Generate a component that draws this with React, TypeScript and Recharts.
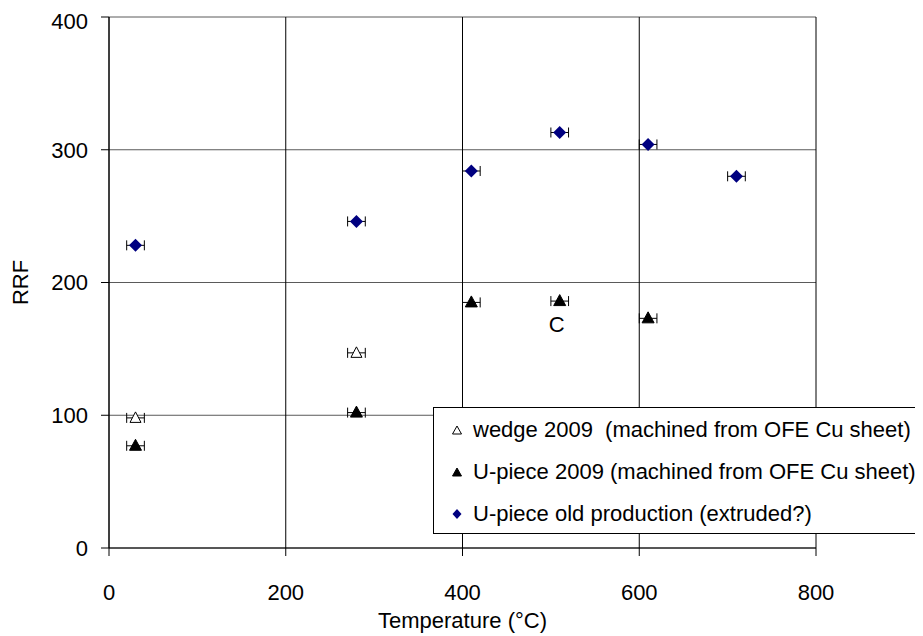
import React from 'react';
import {
  ScatterChart,
  Scatter,
  XAxis,
  YAxis,
  CartesianGrid,
  ErrorBar,
  Legend,
  Label,
  ReferenceDot,
} from 'recharts';

// ---- data ----
const wedgeTemp = [30, 280];
const wedgeRRF = [98, 147];
const uPieceTemp = [30, 280, 410, 510, 610];
const uPieceRRF = [77, 102, 185, 186, 173];
const oldTemp = [30, 280, 410, 510, 610, 710];
const oldRRF = [228, 246, 284, 313, 304, 280];
const tempErr = 10;
const xTicks = [0, 200, 400, 600, 800];
const yTicks = [0, 100, 200, 300, 400];
const seriesNames = [
  'wedge 2009  (machined from OFE Cu sheet)',
  'U-piece 2009 (machined from OFE Cu sheet)',
  'U-piece old production (extruded?)',
];
const annotation = { t: 510, rrf: 186, text: 'C' };

const build = (xs: number[], ys: number[]) =>
  xs.map((x, i) => ({ t: x, rrf: ys[i], err: tempErr }));

const wedgeData = build(wedgeTemp, wedgeRRF);
const uPieceData = build(uPieceTemp, uPieceRRF);
const oldData = build(oldTemp, oldRRF);

const FONT = '"Liberation Sans", Arial, sans-serif';
const FS = 22;

const OpenTriangle = (p: any) => {
  const { cx, cy } = p;
  return (
    <polygon
      points={`${cx},${cy - 6} ${cx + 5.5},${cy + 4.5} ${cx - 5.5},${cy + 4.5}`}
      fill="#fff"
      stroke="#000"
      strokeWidth={1}
    />
  );
};
const FilledTriangle = (p: any) => {
  const { cx, cy } = p;
  return (
    <polygon
      points={`${cx},${cy - 6.5} ${cx + 6},${cy + 4.5} ${cx - 6},${cy + 4.5}`}
      fill="#000"
      stroke="#000"
      strokeWidth={1}
    />
  );
};
const Diamond = (p: any) => {
  const { cx, cy } = p;
  return (
    <polygon
      points={`${cx},${cy - 6.5} ${cx + 6.5},${cy} ${cx},${cy + 6.5} ${cx - 6.5},${cy}`}
      fill="#000080"
    />
  );
};

const legendSymbols = [
  <polygon key="a" points="5,2 9.5,10 0.5,10" fill="#fff" stroke="#000" strokeWidth={1} />,
  <polygon key="b" points="5,2 9.5,10 0.5,10" fill="#000" stroke="#000" strokeWidth={1} />,
  <polygon key="c" points="5,1 9.5,6 5,11 0.5,6" fill="#000080" />,
];

const LegendBox = () => (
  <div
    style={{
      width: 520,
      height: 127,
      border: '1px solid #000',
      background: '#fff',
      boxSizing: 'border-box',
      fontFamily: FONT,
      fontSize: FS,
      color: '#000',
    }}
  >
    {seriesNames.map((name, i) => (
      <div
        key={name}
        style={{
          height: 42,
          display: 'flex',
          alignItems: 'center',
          whiteSpace: 'pre',
          marginTop: i === 0 ? 1 : 0,
        }}
      >
        <svg width={10} height={12} style={{ marginLeft: 18, marginRight: 11 }}>
          {legendSymbols[i]}
        </svg>
        <span>{name}</span>
      </div>
    ))}
  </div>
);

export default function App() {
  return (
    <div style={{ width: 915, height: 628, overflow: 'hidden', position: 'relative' }}>
      <ScatterChart
        width={915}
        height={628}
        margin={{ top: 9, right: 107, bottom: 0, left: 0 }}
        style={{ fontFamily: FONT }}
      >
        <CartesianGrid horizontal={true} vertical={false} stroke="#5a5a5a" />
        <CartesianGrid horizontal={false} vertical={true} stroke="#000" />
        <XAxis
          type="number"
          dataKey="t"
          domain={[0, 800]}
          ticks={xTicks}
          height={88}
          tickSize={8}
          tickMargin={28}
          stroke="#000"
          tick={{ fontSize: FS, fill: '#000', fontFamily: FONT }}
          allowDataOverflow
        >
          <Label
            value="Temperature (°C)"
            position="insideBottom"
            offset={8}
            style={{ fontSize: FS, fill: '#000', fontFamily: FONT }}
          />
        </XAxis>
        <YAxis
          type="number"
          dataKey="rrf"
          domain={[0, 400]}
          ticks={yTicks}
          width={101}
          tickSize={8}
          tickMargin={13}
          stroke="#000"
          tick={{ fontSize: FS, fill: '#000', fontFamily: FONT }}
          allowDataOverflow
        >
          <Label
            content={(props: any) => {
              const vb = props.viewBox || { x: 0, y: 0, width: 0, height: 0 };
              const x = vb.x + 12;
              const y = vb.y + vb.height / 2;
              return (
                <text
                  x={x}
                  y={y}
                  transform={`rotate(-90 ${x} ${y})`}
                  textAnchor="middle"
                  dominantBaseline="central"
                  fontSize={FS}
                  fontFamily={FONT}
                  fill="#000"
                >
                  RRF
                </text>
              );
            }}
          />
        </YAxis>
        <Scatter
          name={seriesNames[0]}
          data={wedgeData}
          shape={<OpenTriangle />}
          isAnimationActive={false}
        >
          <ErrorBar dataKey="err" direction="x" width={5} stroke="#000" strokeWidth={1} />
        </Scatter>
        <Scatter
          name={seriesNames[1]}
          data={uPieceData}
          shape={<FilledTriangle />}
          isAnimationActive={false}
        >
          <ErrorBar dataKey="err" direction="x" width={5} stroke="#000" strokeWidth={1} />
        </Scatter>
        <Scatter
          name={seriesNames[2]}
          data={oldData}
          shape={<Diamond />}
          isAnimationActive={false}
        >
          <ErrorBar dataKey="err" direction="x" width={5} stroke="#000" strokeWidth={1} />
        </Scatter>
        <ReferenceDot
          x={annotation.t}
          y={annotation.rrf}
          r={0}
          fill="none"
          stroke="none"
          label={{
            value: annotation.text,
            position: 'bottom',
            offset: 15,
            dx: -3,
            style: { fontSize: FS, fill: '#000', fontFamily: FONT },
          }}
        />
        <Legend
          layout="horizontal"
          verticalAlign="middle"
          align="center"
          content={<LegendBox />}
          wrapperStyle={{ position: 'absolute', left: 425, top: 399, width: 520, height: 127 }}
        />
      </ScatterChart>
    </div>
  );
}
